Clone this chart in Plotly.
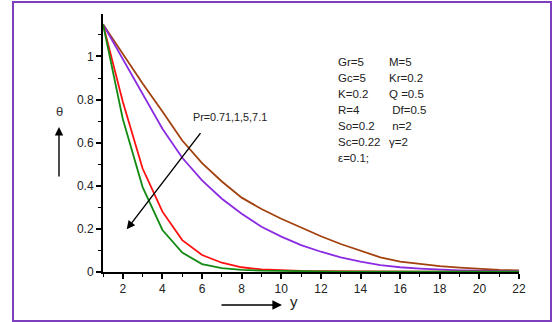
import plotly.graph_objects as go

# ---------------- data ----------------
y_vals = list(range(1, 23))
theta_pr071 = [1.15, 1.01, 0.875, 0.745, 0.61, 0.505, 0.42, 0.345, 0.292, 0.247, 0.205,
               0.166, 0.130, 0.098, 0.068, 0.048, 0.036, 0.027, 0.020, 0.014, 0.010, 0.008]
theta_pr1 = [1.15, 0.99, 0.83, 0.665, 0.53, 0.425, 0.34, 0.27, 0.21, 0.164, 0.125,
             0.094, 0.068, 0.048, 0.032, 0.022, 0.016, 0.011, 0.008, 0.006, 0.005, 0.004]
theta_pr5 = [1.15, 0.79, 0.48, 0.28, 0.148, 0.079, 0.043, 0.022, 0.012, 0.007, 0.005,
             0.004, 0.003, 0.003, 0.002, 0.002, 0.002, 0.002, 0.002, 0.002, 0.002, 0.002]
theta_pr71 = [1.15, 0.71, 0.394, 0.195, 0.09, 0.037, 0.018, 0.010, 0.006, 0.004, 0.003,
              0.003, 0.002, 0.002, 0.002, 0.002, 0.002, 0.002, 0.002, 0.002, 0.002, 0.002]
series_names = ["Pr=0.71", "Pr=1", "Pr=5", "Pr=7.1"]
series_colors = ["#A3410E", "#8A2BE2", "#FF1010", "#138A13"]

x_ticks = [2, 4, 6, 8, 10, 12, 14, 16, 18, 20, 22]
y_ticks = [0, 0.2, 0.4, 0.6, 0.8, 1]
y_tick_text = ["0", "0.2", "0.4", "0.6", "0.8", "1"]

param_left = ["Gr=5", "Gc=5", "K=0.2", "R=4", "So=0.2", "Sc=0.22", "ε=0.1;"]
param_right = ["M=5", "Kr=0.2", "Q =0.5", " Df=0.5", " n=2", "γ=2", ""]

# ---------------- layout geometry ----------------
W, H = 553, 322
L, R, T, B = 103, 34, 14, 50
PW, PH = W - L - R, H - T - B


def px(xp, yp):
    return (xp - L) / PW, (H - B - yp) / PH


FONT = "Liberation Sans, Arial, sans-serif"

fig = go.Figure()
for name, vals, col in zip(series_names,
                           [theta_pr071, theta_pr1, theta_pr5, theta_pr71],
                           series_colors):
    fig.add_trace(go.Scatter(x=y_vals, y=vals, mode="lines", name=name,
                             line=dict(color=col, width=1.8)))

fig.update_layout(
    width=W, height=H,
    margin=dict(l=L, r=R, t=T, b=B, pad=0),
    paper_bgcolor="white", plot_bgcolor="white",
    showlegend=False,
    font=dict(family=FONT, size=12, color="#222"),
)
fig.update_xaxes(range=[1, 22], tickvals=x_ticks, ticks="outside", ticklen=5,
                 tickwidth=1.5, tickcolor="black", showline=True, linecolor="black",
                 linewidth=2, showgrid=False, zeroline=False,
                 tickfont=dict(family=FONT, size=12),
                 minor=dict(tickvals=list(range(1, 23, 2)), ticks="outside",
                            ticklen=3, tickcolor="black", tickwidth=1))
fig.update_yaxes(range=[0, 1.197], tickvals=y_ticks, ticktext=y_tick_text,
                 ticks="outside", ticklen=5, tickwidth=1.5, tickcolor="black",
                 showline=True, linecolor="black", linewidth=2, showgrid=False,
                 zeroline=False, tickfont=dict(family=FONT, size=12),
                 minor=dict(tickvals=[0.1, 0.3, 0.5, 0.7, 0.9, 1.1], ticks="outside",
                            ticklen=3, tickcolor="black", tickwidth=1))

# purple frame
x0, y0 = px(13, 321)
x1, y1 = px(551, 2)
fig.add_shape(type="rect", xref="paper", yref="paper", x0=x0, y0=y0, x1=x1, y1=y1,
              line=dict(color="#7E3FBF", width=2), layer="below")

# Pr arrow
fig.add_annotation(x=2.2, y=0.198, ax=5.98, ay=0.651, xref="x", yref="y",
                   axref="x", ayref="y", text="", showarrow=True, arrowhead=2,
                   arrowsize=1.2, arrowwidth=1.4, arrowcolor="black")
px_x, px_y = px(191, 117)
fig.add_annotation(x=px_x, y=px_y, xref="paper", yref="paper", text="Pr=0.71,1,5,7.1",
                   showarrow=False, xanchor="left", yanchor="middle",
                   font=dict(family=FONT, size=10.8, color="#222"))

# theta label and arrow
hx, hy = px(59, 127)
fig.add_annotation(x=hx, y=hy, xref="paper", yref="paper", ax=0, ay=51,
                   text="", showarrow=True, arrowhead=2, arrowsize=1.2,
                   arrowwidth=1.4, arrowcolor="black")
tx, ty = px(59, 111)
fig.add_annotation(x=tx, y=ty, xref="paper", yref="paper", text="θ",
                   showarrow=False, xanchor="center", yanchor="middle",
                   font=dict(family=FONT, size=13, color="#333"))

# y label and arrow
hx, hy = px(282, 305)
fig.add_annotation(x=hx, y=hy, xref="paper", yref="paper", ax=-62, ay=0,
                   text="", showarrow=True, arrowhead=2, arrowsize=1.2,
                   arrowwidth=1.6, arrowcolor="black")
tx, ty = px(294, 301)
fig.add_annotation(x=tx, y=ty, xref="paper", yref="paper", text="y",
                   showarrow=False, xanchor="center", yanchor="middle",
                   font=dict(family=FONT, size=15, color="#222"))

# parameter block
for i, (lt, rt) in enumerate(zip(param_left, param_right)):
    yy = 62.3 + i * 16
    lx, ly = px(336, yy)
    fig.add_annotation(x=lx, y=ly, xref="paper", yref="paper", text=lt,
                       showarrow=False, xanchor="left", yanchor="middle",
                       font=dict(family=FONT, size=11.5, color="#222"))
    if rt:
        rx, ry = px(387, yy)
        fig.add_annotation(x=rx, y=ry, xref="paper", yref="paper", text=rt,
                           showarrow=False, xanchor="left", yanchor="middle",
                           font=dict(family=FONT, size=11.5, color="#222"))

fig.write_html("out.html")
